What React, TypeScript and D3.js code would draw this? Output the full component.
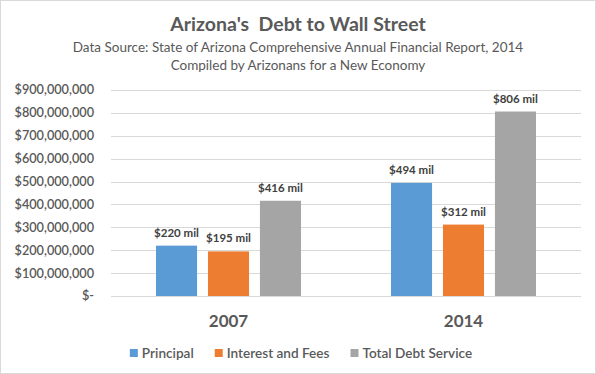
import React, { useEffect, useRef } from "react";
import * as d3 from "d3";

const categories = ["2007", "2014"];
const seriesNames = ["Principal", "Interest and Fees", "Total Debt Service"];
const seriesColors = ["#5B9BD5", "#ED7D31", "#A5A5A5"];
const principal = [220, 494];
const interest = [195, 312];
const total = [416, 806];
const yTicks = [0, 100, 200, 300, 400, 500, 600, 700, 800, 900];
const title = "Arizona's  Debt to Wall Street";
const subtitle1 = "Data Source: State of Arizona Comprehensive Annual Financial Report, 2014";
const subtitle2 = "Compiled by Arizonans for a New Economy";

const W = 596;
const H = 374;
const FONT = "Lato, 'Open Sans', sans-serif";

export default function App() {
  const ref = useRef<SVGSVGElement>(null);

  useEffect(() => {
    const svg = d3.select(ref.current);
    svg.selectAll("*").remove();

    svg.append("rect").attr("x", 0.5).attr("y", 0.5).attr("width", W - 1).attr("height", H - 1)
      .attr("fill", "#fff").attr("stroke", "#d9d9d9");

    const left = 111, right = 581, top = 90, bottom = 296;
    const x0 = d3.scaleBand<string>().domain(categories).range([left, right]).padding(0);
    const y = d3.scaleLinear().domain([0, 900]).range([bottom, top]);
    const x1 = d3.scaleBand<number>().domain([0, 1, 2]).range([0, 145]).paddingInner(0.21).paddingOuter(0);

    // titles
    svg.append("text").attr("x", 298).attr("y", 31).attr("text-anchor", "middle")
      .attr("font-family", FONT).attr("font-size", 19.5).attr("font-weight", "bold").attr("fill", "#595959")
      .attr("xml:space", "preserve").style("white-space", "pre").text(title);
    svg.append("text").attr("x", 298).attr("y", 52).attr("text-anchor", "middle")
      .attr("font-family", FONT).attr("font-size", 13.5).attr("fill", "#595959").text(subtitle1);
    svg.append("text").attr("x", 298).attr("y", 69.5).attr("text-anchor", "middle")
      .attr("font-family", FONT).attr("font-size", 13.5).attr("fill", "#595959").text(subtitle2);

    // gridlines
    const g = svg.append("g");
    yTicks.forEach((t) => {
      g.append("line").attr("x1", left).attr("x2", right).attr("y1", Math.round(y(t)) + 0.5).attr("y2", Math.round(y(t)) + 0.5)
        .attr("stroke", "#d9d9d9").attr("stroke-width", 1);
      g.append("text").attr("x", 94).attr("y", y(t)).attr("dy", "0.35em").attr("text-anchor", "end")
        .attr("font-family", FONT).attr("font-size", 12.7).attr("font-weight", 600).attr("fill", "#595959")
        .text(t === 0 ? "$-" : "$" + d3.format(",")(t * 1000000));
    });

    const series = [principal, interest, total];
    categories.forEach((c, ci) => {
      const gx = (x0(c) as number) + (x0.bandwidth() - 145) / 2;
      series.forEach((s, si) => {
        const bx = gx + (x1(si) as number);
        g.append("rect").attr("x", bx).attr("y", y(s[ci])).attr("width", x1.bandwidth())
          .attr("height", bottom - y(s[ci])).attr("fill", seriesColors[si]);
        g.append("text").attr("x", bx + x1.bandwidth() / 2).attr("y", y(s[ci]) - 9).attr("text-anchor", "middle")
          .attr("font-family", FONT).attr("font-size", 11.5).attr("font-weight", "bold").attr("fill", "#404040")
          .text("$" + s[ci] + " mil");
      });
      g.append("text").attr("x", (x0(c) as number) + x0.bandwidth() / 2).attr("y", 327).attr("text-anchor", "middle")
        .attr("font-family", FONT).attr("font-size", 17).attr("font-weight", "bold").attr("fill", "#595959").text(c);
    });

    // legend
    const lg = svg.append("g");
    const items = seriesNames.map((n, i) => {
      const it = lg.append("g");
      it.append("rect").attr("x", 0).attr("y", -4).attr("width", 8).attr("height", 8).attr("fill", seriesColors[i]);
      const t = it.append("text").attr("x", 12).attr("y", 0).attr("dy", "0.35em")
        .attr("font-family", FONT).attr("font-size", 13.6).attr("font-weight", 600).attr("fill", "#595959").text(n);
      const w = 12 + (t.node() as SVGTextElement).getComputedTextLength();
      return { it, w };
    });
    const gap = 21;
    const totalW = d3.sum(items, (d) => d.w) + gap * (items.length - 1);
    let cx = 301 - totalW / 2;
    items.forEach((d) => {
      d.it.attr("transform", `translate(${cx},353)`);
      cx += d.w + gap;
    });
  }, []);

  return (
    <div style={{ position: "absolute", left: 0, top: 0 }}>
      <svg ref={ref} width={W} height={H} style={{ display: "block" }} />
    </div>
  );
}
